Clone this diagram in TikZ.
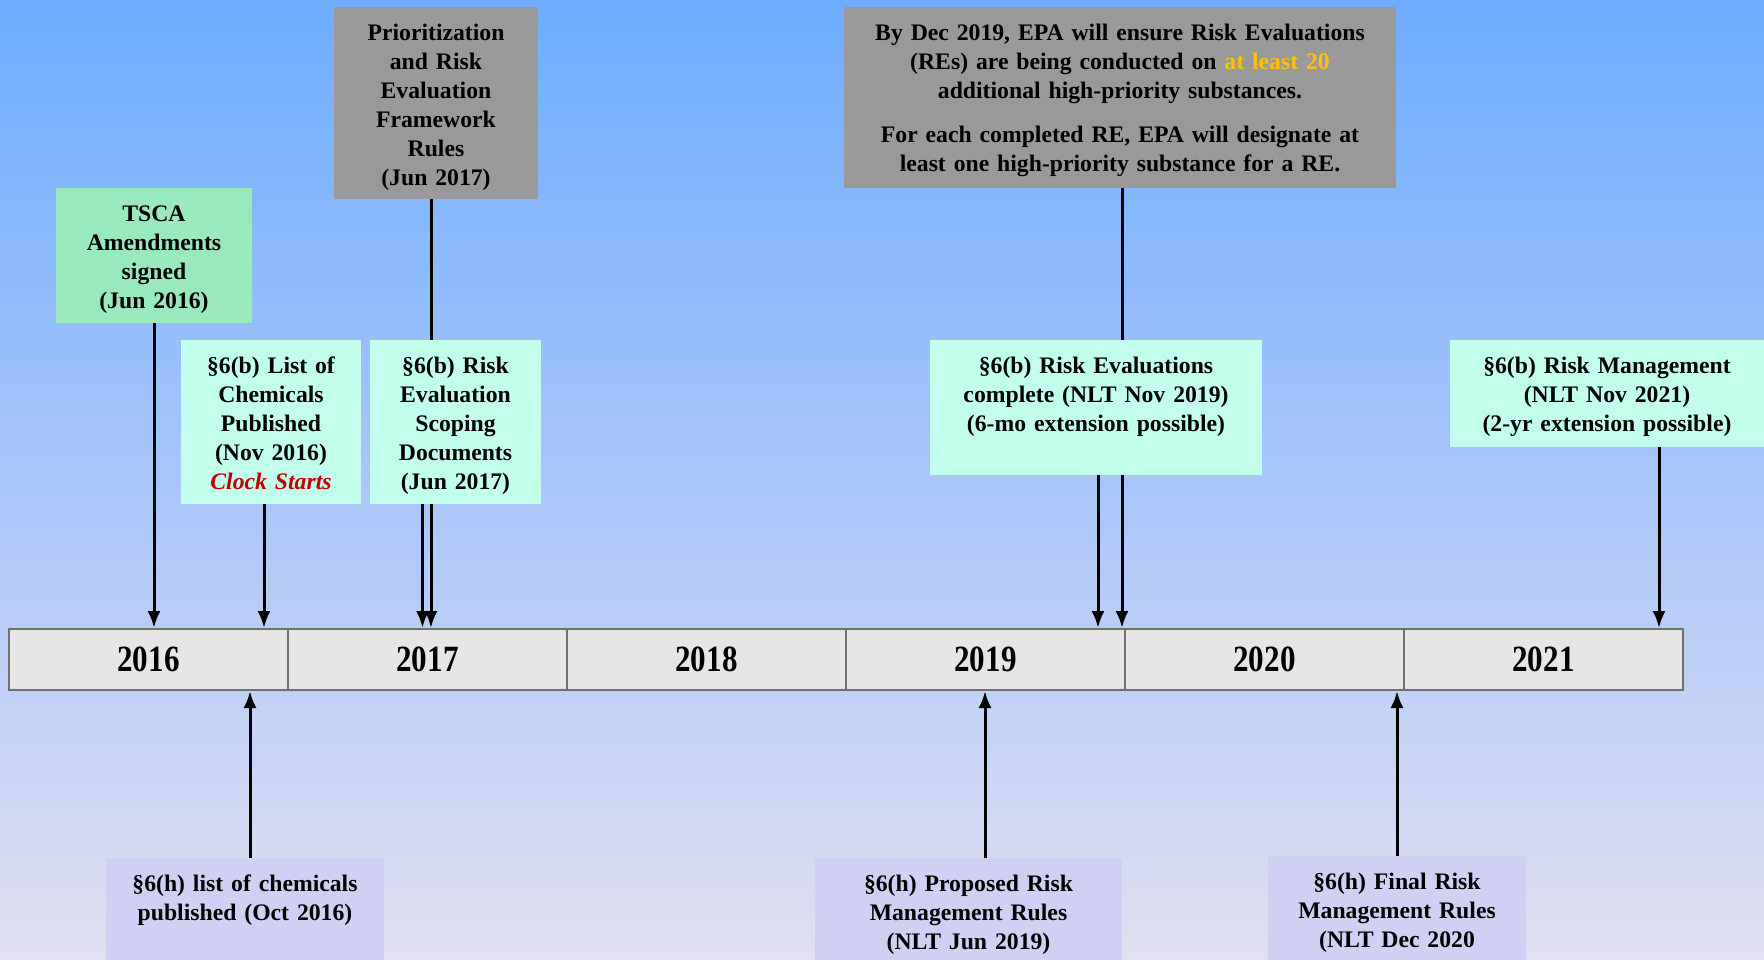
\documentclass[tikz,border=0pt]{standalone}
\usepackage{fontspec}
\setmainfont{Liberation Serif}
\usetikzlibrary{arrows.meta}

\definecolor{skytop}{RGB}{110,172,255}
\definecolor{skymid}{RGB}{160,198,250}
\definecolor{skybot}{RGB}{226,224,242}
\definecolor{tscagreen}{RGB}{153,233,189}
\definecolor{mint}{RGB}{193,255,236}
\definecolor{slate}{RGB}{153,153,153}
\definecolor{lav}{RGB}{208,208,244}
\definecolor{cellgray}{RGB}{230,230,230}
\definecolor{cellline}{RGB}{112,112,112}
\definecolor{gold}{RGB}{255,192,0}
\definecolor{clockred}{RGB}{192,0,0}

\tikzset{
  event/.style={anchor=north, inner xsep=0pt, inner ysep=0pt, text height=33pt,
    align=center, font=\fontsize{23.7}{29}\selectfont\bfseries},
  yearcell/.style={draw=cellline, line width=2pt, fill=cellgray,
    minimum width=279pt, minimum height=61pt, inner sep=0pt,
    font=\fontsize{37}{40}\selectfont\bfseries},
  pointer/.style={line width=3pt, -{Latex[length=17pt,width=13pt]}}
}

\begin{document}
\begin{tikzpicture}[x=1pt, y=-1pt]
\useasboundingbox (0,0) rectangle (1764,960);
\fill[top color=skytop, middle color=skymid, bottom color=skybot] (0,0) rectangle (1764,960);

% the years
\foreach \yr [count=\i] in {2016,2017,2018,2019,2020,2021}
  \node[yearcell] (y\yr) at ({9+279*(\i-0.5)},659.5) {\scalebox{0.84}[1]{\yr}};

% rules and goals (arrows run behind the boxes below them)
\node[event, fill=slate, text width=204pt, text depth=159pt] (prior) at (436,7)
  {Prioritization\\and Risk\\Evaluation\\Framework\\Rules\\(Jun 2017)};
\node[event, fill=slate, text width=552pt, text depth=148pt] (goal) at (1120,7)
  {By Dec 2019, EPA will ensure Risk Evaluations\\(REs) are being conducted on {\color{gold}at least 20}\\additional high-priority substances.\\[15pt]
   For each completed RE, EPA will designate at\\least one high-priority substance for a RE.};
\draw[pointer] ([xshift=-5pt]prior.south) -- ([xshift=-5pt]prior.south |- y2017.north);
\draw[pointer] ([xshift=2pt]goal.south) -- ([xshift=2pt]goal.south |- y2020.north);

% above the line
\node[event, fill=tscagreen, text width=196pt, text depth=102pt] (tsca) at (154,188)
  {TSCA\\Amendments\\signed\\(Jun 2016)};
\node[event, fill=mint, text width=180pt, text depth=131pt] (list) at (271,340)
  {\S6(b) List of\\Chemicals\\Published\\(Nov 2016)\\\textit{\color{clockred}Clock Starts}};
\node[event, fill=mint, text width=171pt, text depth=131pt] (scoping) at (455.5,340)
  {\S6(b) Risk\\Evaluation\\Scoping\\Documents\\(Jun 2017)};
\node[event, fill=mint, text width=332pt, text depth=102pt] (recomp) at (1096,340)
  {\S6(b) Risk Evaluations\\complete (NLT Nov 2019)\\(6-mo extension possible)};
\node[event, fill=mint, text width=314pt, text depth=74pt] (rmgmt) at (1607,340)
  {\S6(b) Risk Management\\(NLT Nov 2021)\\(2-yr extension possible)};

\draw[pointer] (tsca.south) -- (tsca.south |- y2016.north);
\draw[pointer] ([xshift=-7pt]list.south) -- ([xshift=-7pt]list.south |- y2016.north);
\draw[pointer] ([xshift=-33pt]scoping.south) -- ([xshift=-33pt]scoping.south |- y2017.north);
\draw[pointer] ([xshift=2pt]recomp.south) -- ([xshift=2pt]recomp.south |- y2019.north);
\draw[pointer] ([xshift=52pt]rmgmt.south) -- ([xshift=52pt]rmgmt.south |- y2021.north);

% below the line
\node[event, fill=lav, text width=278pt, text depth=99pt] (hlist) at (245,858)
  {\S6(h) list of chemicals\\published (Oct 2016)};
\node[event, fill=lav, text width=307pt, text depth=99pt] (hprop) at (968.5,858)
  {\S6(h) Proposed Risk\\Management Rules\\(NLT Jun 2019)};
\node[event, fill=lav, text width=258pt, text depth=101pt] (hfinal) at (1397,856)
  {\S6(h) Final Risk\\Management Rules\\(NLT Dec 2020};

\draw[pointer] ([xshift=5pt]hlist.north) -- ([xshift=5pt]hlist.north |- y2016.south);
\draw[pointer] ([xshift=16.5pt]hprop.north) -- ([xshift=16.5pt]hprop.north |- y2019.south);
\draw[pointer] (hfinal.north) -- (hfinal.north |- y2020.south);
\end{tikzpicture}
\end{document}
